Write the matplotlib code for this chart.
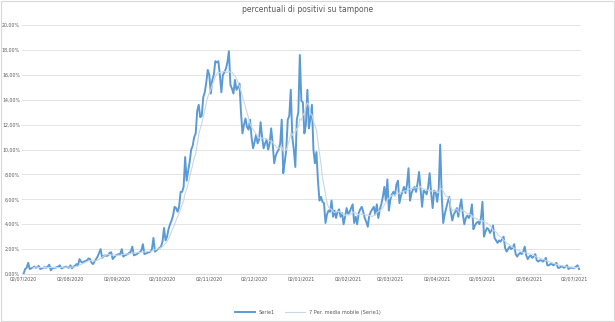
import matplotlib
matplotlib.use("Agg")
import matplotlib.pyplot as plt
import matplotlib.dates as mdates
from matplotlib.ticker import FuncFormatter
import numpy as np
import pandas as pd

title = "percentuali di positivi su tampone"
series_label = "Serie1"
ma_label = "7 Per. media mobile (Serie1)"
start_date = "2020-07-02"

# daily positivity (%), one row per week starting 02/07/2020
positivi = [
    0.05, 0.4, 0.5, 0.9, 0.4, 0.45, 0.5,
    0.6, 0.5, 0.55, 0.65, 0.4, 0.45, 0.5,
    0.55, 0.5, 0.6, 0.75, 0.3, 0.45, 0.5,
    0.5, 0.55, 0.6, 0.7, 0.45, 0.5, 0.55,
    0.6, 0.55, 0.5, 0.7, 0.45, 0.6, 0.65,
    0.8, 0.7, 1.2, 1.0, 0.9, 1.0, 1.05,
    1.1, 1.25, 1.2, 0.9, 0.8, 1.0, 1.2,
    1.4, 1.7, 2.0, 1.3, 1.45, 1.5, 1.45,
    1.5, 1.7, 1.75, 1.2, 1.35, 1.5, 1.55,
    1.6, 1.6, 2.0, 1.4, 1.5, 1.55, 1.6,
    1.7, 1.8, 2.2, 1.5, 1.55, 1.6, 1.7,
    1.75, 1.9, 2.4, 1.6, 1.65, 1.7, 1.75,
    1.8, 2.0, 2.9, 1.8, 1.9, 2.0, 2.1,
    2.2, 2.6, 3.7, 2.7, 3.0, 3.6, 4.0,
    4.3, 4.7, 5.4, 5.3, 5.0, 5.4, 6.6,
    6.6, 7.0, 9.4, 7.5, 8.3, 9.0, 10.0,
    10.3, 11.0, 11.3, 13.1, 13.6, 12.6, 12.7,
    14.2, 14.6, 15.4, 16.4, 16.0, 14.5, 15.6,
    16.0, 17.1, 17.0, 17.1, 16.0, 14.6, 16.0,
    16.2, 16.5, 17.0, 17.9, 15.2, 14.9, 14.5,
    15.6, 14.8, 15.0, 15.3, 13.0, 11.3, 12.0,
    12.5, 11.8, 11.6, 12.4, 11.0, 10.1, 10.6,
    11.2, 10.5, 10.8, 12.2, 11.0, 10.1, 10.5,
    10.8, 10.0, 10.5, 11.7, 10.5, 8.9, 9.5,
    9.8, 10.0, 10.5, 12.4, 8.1, 9.0, 10.0,
    12.4, 12.7, 14.8, 11.0, 10.0, 8.6, 12.4,
    13.0, 17.6, 13.9, 13.8, 11.3, 12.0, 14.8,
    11.7, 12.5, 13.6, 10.0, 8.9, 9.8, 7.5,
    5.9, 6.2, 5.8, 5.7, 4.1, 4.8, 5.1,
    5.0, 5.9, 4.6, 5.1, 4.5, 5.0, 5.2,
    4.6, 4.9, 4.0, 4.6, 5.3, 4.8, 5.0,
    5.3, 5.6, 4.1, 4.6, 4.0, 4.9, 5.2,
    5.4, 5.0, 4.5, 4.2, 3.8, 4.7, 5.0,
    5.2, 5.4, 4.8, 5.6, 4.5, 5.2, 5.6,
    6.2, 7.0, 5.9, 7.6, 5.1, 6.0, 6.4,
    6.6, 6.3, 7.2, 7.5, 5.7, 6.3, 6.6,
    7.0, 6.5, 7.2, 8.5, 5.9, 6.5, 6.8,
    7.0, 6.6, 7.3, 8.2, 6.8, 5.4, 6.7,
    6.6, 6.4, 7.0, 8.1, 6.5, 5.3, 6.7,
    6.6, 5.8, 6.8, 10.4, 6.3, 4.1, 4.8,
    5.3, 5.8, 6.2, 5.0, 4.3, 4.8, 5.0,
    5.3, 4.6, 5.4, 6.0, 4.8, 4.0, 4.5,
    4.7, 4.5, 4.8, 5.6, 3.6, 3.9, 4.1,
    4.2, 4.0, 4.5, 5.8, 3.0, 3.4, 3.7,
    3.6, 3.3, 3.5, 3.9, 2.9, 2.7, 2.5,
    2.7, 2.6, 2.8, 3.0, 2.1, 1.8, 2.0,
    2.2, 2.0, 2.1, 2.4, 1.6, 1.4, 1.6,
    1.7, 1.6, 1.8, 2.2, 1.5, 1.2, 1.4,
    1.5, 1.3, 1.4, 1.6, 1.1, 1.0, 1.1,
    1.1, 1.0, 1.1, 1.3, 0.7, 0.7, 0.8,
    0.8, 0.7, 0.8, 0.9, 0.5, 0.5, 0.6,
    0.6, 0.5, 0.6, 0.7, 0.4, 0.5, 0.5,
    0.5, 0.5, 0.6, 0.7, 0.4,
]

dates = pd.date_range(start_date, periods=len(positivi), freq="D")
s = pd.Series(np.array(positivi) / 100.0, index=dates)
ma = s.rolling(7).mean()

# month ticks on the 2nd of each month, 02/07/2020 .. 02/07/2021
tick_dates = pd.date_range("2020-07-01", "2021-07-01", freq="MS") + pd.Timedelta(days=1)

fig = plt.figure(figsize=(6.15, 3.22), dpi=100)
ax = fig.add_axes([0.036, 0.149, 0.908, 0.773])

ax.plot(s.index, s.values, color="#5B9BD5", lw=1.4, label=series_label)
ax.plot(ma.index, ma.values, color="#C9D6E6", lw=0.8, label=ma_label)

ax.set_ylim(0, 0.20)
ax.set_yticks(np.arange(0, 0.2001, 0.02))
ax.yaxis.set_major_formatter(FuncFormatter(lambda v, p: f"{v*100:.2f}%".replace(".", ",")))
ax.set_xticks(tick_dates)
ax.xaxis.set_major_formatter(mdates.DateFormatter("%d/%m/%Y"))
ax.set_xlim(dates[0] - pd.Timedelta(days=1), dates[-1] + pd.Timedelta(days=1))

ax.grid(axis="y", color="#E4E4E4", lw=0.7)
ax.set_axisbelow(True)
for side in ["top", "right", "left"]:
    ax.spines[side].set_visible(False)
ax.spines["bottom"].set_color("#D9D9D9")
ax.spines["bottom"].set_linewidth(0.7)
ax.tick_params(axis="both", length=0, labelsize=3.4, colors="#595959", pad=1.5)

fig.text(0.5, 0.972, title, ha="center", va="center", fontsize=5.5, color="#595959")
fig.legend(loc="center", bbox_to_anchor=(0.5, 0.03), ncol=2, frameon=False,
           fontsize=3.6, labelcolor="#595959", handlelength=4, columnspacing=2)

fig.patches.append(plt.Rectangle((0.002, 0.003), 0.996, 0.994, transform=fig.transFigure,
                                 fill=False, edgecolor="#D9D9D9", lw=0.8))

fig.savefig("out.png", dpi=100)
